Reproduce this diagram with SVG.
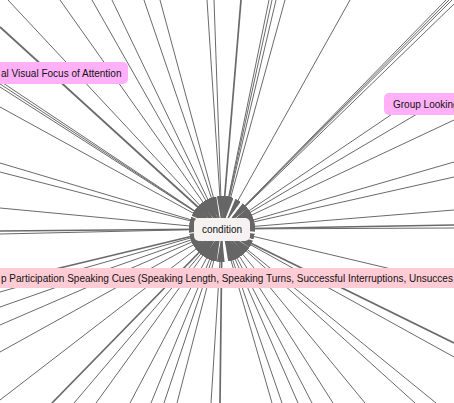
<svg xmlns="http://www.w3.org/2000/svg" width="454" height="403" viewBox="0 0 454 403">
<style>
.e{stroke:#6a6a6a;stroke-width:1;fill:none;marker-end:url(#ah)}
.t{stroke-width:1.7}
.lbl{font-family:"Liberation Sans",Arial,sans-serif;font-size:10px;fill:#111}
.vio{fill:#ffb0f8}
.pink{fill:#ffccd6}
</style>
<defs>
<marker id="ah" markerUnits="userSpaceOnUse" markerWidth="34" markerHeight="8" refX="33" refY="3" orient="auto">
<path d="M0,0 L26,3 L0,6 z" fill="#666"/>
</marker>
</defs>
<rect width="454" height="403" fill="#fff"/>
<g id="connectors">
<line class="e" x1="8" y1="0" x2="222" y2="229"/>
<line class="e" x1="60" y1="0" x2="222" y2="229"/>
<line class="e" x1="92" y1="0" x2="222" y2="229"/>
<line class="e" x1="112" y1="0" x2="222" y2="229"/>
<line class="e" x1="144" y1="0" x2="222" y2="229"/>
<line class="e" x1="160" y1="0" x2="222" y2="229"/>
<line class="e" x1="207" y1="0" x2="222" y2="229"/>
<line class="e" x1="214" y1="0" x2="222" y2="229"/>
<line class="e t" x1="241" y1="0" x2="222" y2="229"/>
<line class="e" x1="269" y1="0" x2="222" y2="229"/>
<line class="e" x1="272" y1="0" x2="222" y2="229"/>
<line class="e" x1="276" y1="0" x2="222" y2="229"/>
<line class="e" x1="285" y1="0" x2="222" y2="229"/>
<line class="e" x1="350" y1="0" x2="222" y2="229"/>
<line class="e" x1="446" y1="0" x2="222" y2="229"/>
<line class="e" x1="449" y1="0" x2="222" y2="229"/>
<line class="e" x1="452" y1="0" x2="222" y2="229"/>
<line class="e" x1="454" y1="4" x2="222" y2="229"/>
<line class="e t" x1="0" y1="27" x2="222" y2="229"/>
<line class="e" x1="0" y1="81" x2="222" y2="229"/>
<line class="e" x1="0" y1="84" x2="222" y2="229"/>
<line class="e" x1="0" y1="87" x2="222" y2="229"/>
<line class="e" x1="0" y1="107" x2="222" y2="229"/>
<line class="e" x1="0" y1="163" x2="222" y2="229"/>
<line class="e" x1="0" y1="172" x2="222" y2="229"/>
<line class="e" x1="0" y1="208" x2="222" y2="229"/>
<line class="e t" x1="0" y1="231" x2="222" y2="229"/>
<line class="e" x1="0" y1="234" x2="222" y2="229"/>
<line class="e" x1="0" y1="292" x2="222" y2="229"/>
<line class="e" x1="0" y1="307" x2="222" y2="229"/>
<line class="e" x1="0" y1="325" x2="222" y2="229"/>
<line class="e" x1="0" y1="352" x2="222" y2="229"/>
<line class="e" x1="0" y1="400" x2="222" y2="229"/>
<line class="e t" x1="52" y1="403" x2="222" y2="229"/>
<line class="e" x1="74" y1="403" x2="222" y2="229"/>
<line class="e" x1="96" y1="403" x2="222" y2="229"/>
<line class="e" x1="130" y1="403" x2="222" y2="229"/>
<line class="e" x1="151" y1="403" x2="222" y2="229"/>
<line class="e" x1="164" y1="403" x2="222" y2="229"/>
<line class="e" x1="177" y1="403" x2="222" y2="229"/>
<line class="e" x1="211" y1="403" x2="222" y2="229"/>
<line class="e t" x1="220" y1="403" x2="222" y2="229"/>
<line class="e" x1="272" y1="403" x2="222" y2="229"/>
<line class="e" x1="282" y1="403" x2="222" y2="229"/>
<line class="e" x1="298" y1="403" x2="222" y2="229"/>
<line class="e" x1="312" y1="403" x2="222" y2="229"/>
<line class="e" x1="333" y1="403" x2="222" y2="229"/>
<line class="e" x1="365" y1="403" x2="222" y2="229"/>
<line class="e" x1="415" y1="403" x2="222" y2="229"/>
<line class="e" x1="436" y1="403" x2="222" y2="229"/>
<line class="e" x1="454" y1="120" x2="222" y2="229"/>
<line class="e" x1="454" y1="162" x2="222" y2="229"/>
<line class="e" x1="454" y1="177" x2="222" y2="229"/>
<line class="e" x1="454" y1="210" x2="222" y2="229"/>
<line class="e t" x1="454" y1="225" x2="222" y2="229"/>
<line class="e" x1="454" y1="228" x2="222" y2="229"/>
<line class="e t" x1="454" y1="343" x2="222" y2="229"/>
<line class="e" x1="454" y1="357" x2="222" y2="229"/>
<line class="e" x1="407" y1="104" x2="222" y2="229"/>
<line class="e" x1="434" y1="104" x2="222" y2="229"/>
<line class="e t" x1="43" y1="272" x2="222" y2="229"/>
<line class="e" x1="404" y1="272" x2="222" y2="229"/>
</g>
<g id="node-visual-focus">
<rect class="vio" x="-10" y="62" width="138" height="22" rx="5"/>
<text class="lbl" x="1" y="76.5">al Visual Focus of Attention</text>
</g>
<g id="node-group-looking">
<rect class="vio" x="384" y="93" width="80" height="22" rx="5"/>
<text class="lbl" x="393" y="107.5">Group Looking</text>
</g>
<g id="node-speaking-cues">
<rect class="pink" x="-5" y="268" width="470" height="20"/>
<text class="lbl" x="1" y="281.5">p Participation Speaking Cues (Speaking Length, Speaking Turns, Successful Interruptions, Unsucces</text>
</g>
<g id="node-condition">
<rect x="194" y="218" width="56" height="23" rx="5" fill="#f6f2f2"/>
<text class="lbl" x="222" y="233" text-anchor="middle">condition</text>
</g>
</svg>
